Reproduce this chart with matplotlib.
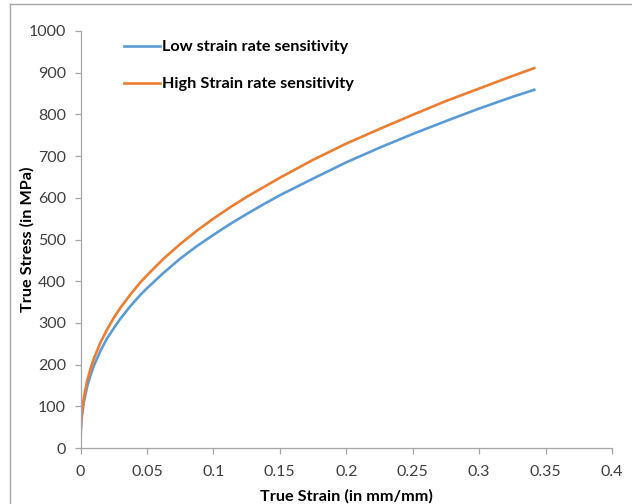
import matplotlib
matplotlib.use("Agg")
import matplotlib.pyplot as plt
from matplotlib.lines import Line2D

plt.rcParams['font.family'] = ['Lato', 'DejaVu Sans']

strain_high = [0, 0.0002, 0.0005, 0.001, 0.0025, 0.005, 0.0075, 0.01, 0.015, 0.02, 0.025, 0.03, 0.0375,
               0.045, 0.05, 0.0625, 0.075, 0.0875, 0.1, 0.1125, 0.125, 0.1375, 0.15, 0.175, 0.2, 0.225,
               0.25, 0.275, 0.3, 0.325, 0.3415]
stress_high = [0, 43, 62, 83, 121, 161, 190, 214, 253, 284, 312, 336, 368,
               397, 414, 454, 489, 521, 550, 577, 602, 625, 648, 691, 730, 765,
               799, 832, 862, 892, 911]

strain_low = [0, 0.0002, 0.0005, 0.001, 0.0025, 0.005, 0.0075, 0.01, 0.015, 0.02, 0.025, 0.03, 0.0375,
              0.045, 0.05, 0.0625, 0.075, 0.0875, 0.1, 0.1125, 0.125, 0.1375, 0.15, 0.175, 0.2, 0.225,
              0.25, 0.275, 0.3, 0.325, 0.3415]
stress_low = [0, 38, 56, 74, 110, 147, 174, 197, 233, 263, 287, 310, 340,
              367, 383, 420, 454, 484, 511, 537, 561, 584, 606, 646, 685, 720,
              753, 784, 814, 842, 859]

x_ticks = [0, 0.05, 0.1, 0.15, 0.2, 0.25, 0.3, 0.35, 0.4]
x_tick_labels = ["0", "0.05", "0.1", "0.15", "0.2", "0.25", "0.3", "0.35", "0.4"]
y_ticks = [0, 100, 200, 300, 400, 500, 600, 700, 800, 900, 1000]

W, H = 632, 504
fig = plt.figure(figsize=(W / 100, H / 100), dpi=100)
ax = fig.add_axes([80.5 / W, (H - 448) / H, (612 - 80.5) / W, 417 / H])

ax.plot(strain_low, stress_low, color="#5B9BD5", lw=1.9, label="Low strain rate sensitivity")
ax.plot(strain_high, stress_high, color="#ED7D31", lw=1.9, label="High Strain rate sensitivity")

ax.set_xlim(0, 0.4)
ax.set_ylim(0, 1000)
ax.set_xticks(x_ticks)
ax.set_xticklabels(x_tick_labels)
ax.set_yticks(y_ticks)

for s in ["top", "right"]:
    ax.spines[s].set_visible(False)
for s in ["left", "bottom"]:
    ax.spines[s].set_color("#A6A6A6")
    ax.spines[s].set_linewidth(0.9)
ax.tick_params(axis="both", direction="out", length=4.5, width=0.9, color="#A6A6A6",
               labelsize=11.5, labelcolor="#404040")
ax.tick_params(axis="y", pad=6)
ax.tick_params(axis="x", pad=8)

ax.set_xlabel("True Strain (in mm/mm)", fontsize=11.7, fontweight="bold", labelpad=7)
ax.set_ylabel("True Stress (in MPa)", fontsize=11.7, fontweight="bold", labelpad=-4.5)

leg = ax.legend(loc="upper left", bbox_to_anchor=(124 / W, 1 - 40 / H), bbox_transform=fig.transFigure,
                frameon=False, handlelength=2.2, handletextpad=0.15, labelspacing=1.4,
                borderpad=0, borderaxespad=0,
                prop={"size": 11.7, "weight": "bold"})

# outer border (chart area frame)
fig.add_artist(Line2D([10 / W, 10 / W], [0, 1 - 4 / H], transform=fig.transFigure, color="#A6A6A6", lw=1))
fig.add_artist(Line2D([10 / W, 1], [1 - 4 / H, 1 - 4 / H], transform=fig.transFigure, color="#A6A6A6", lw=1))

fig.savefig("out.png", dpi=100)
